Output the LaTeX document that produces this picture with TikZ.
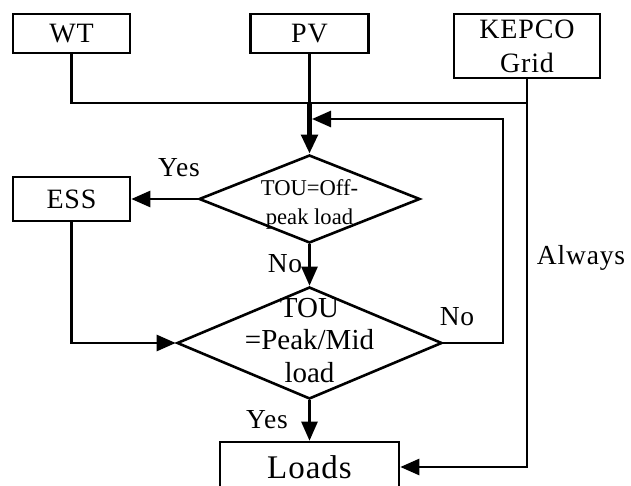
\documentclass[tikz,border=0pt]{standalone}
\usepackage{fontspec}
\newfontfamily\dfont{Liberation Serif}
\newfontfamily\lfont[LetterSpace=3]{Liberation Serif}
\usetikzlibrary{shapes.geometric,arrows.meta}
\begin{document}
\begin{tikzpicture}[x=1pt,y=-1pt,line width=2.6pt,
  box/.style={draw,rectangle,inner sep=0pt,align=center,font=\lfont\fontsize{28}{34}\selectfont},
  dia/.style={draw,diamond,inner sep=0pt},
  arr/.style={-{Triangle[length=19pt,width=16pt]}},
  lab/.style={anchor=base,inner sep=0pt,font=\lfont\fontsize{27.5}{30}\selectfont},
  dtext/.style={inner sep=0pt,align=center}]
\useasboundingbox (0,0) rectangle (631,486);
% boxes
\node[box,minimum width=117pt,minimum height=39pt] (wt) at (71.5,33.5) {WT};
\node[box,minimum width=118pt,minimum height=39pt] (pv) at (309.5,33.5) {PV};
\node[box,minimum width=146pt,minimum height=64pt] (kepco) at (527,46) {KEPCO\\Grid};
\node[box,minimum width=117pt,minimum height=44pt] (ess) at (71.5,199) {ESS};
\node[box,minimum width=179pt,minimum height=50pt,font=\lfont\fontsize{33}{36}\selectfont] (loads) at (309.5,467) {Loads};
% diamonds
\node[dia,minimum width=221pt,minimum height=88pt] (d1) at (309.5,199) {};
\node[dia,minimum width=265pt,minimum height=112pt] (d2) at (309.5,343) {};
\node[dtext,font=\dfont\fontsize{22.6}{29}\selectfont] (t1) at (309.5,204) {TOU=Off-\\peak load};
\node[dtext,font=\dfont\fontsize{29}{32.5}\selectfont] (t2) at (309.5,340.5) {TOU\\=Peak/Mid\\load};
% coordinates
\coordinate (wj) at (527,103);
\coordinate (pj) at (309.5,103);
\coordinate (fbc) at (503,119);
\coordinate (fbt) at (312,119);
% connectors
\draw (wt.south) |- (wj);
\draw (pv.south) -- (pj);
\draw[arr,line width=5.5pt] (pj) -- (d1.north);
\draw[arr] (kepco.south) |- (loads.east);
\draw[arr] (d1.west) -- (ess.east);
\draw[arr] (d1.south) -- (d2.north);
\draw[arr] (ess.south) |- (d2.west);
\draw[arr] (d2.east) -| (fbc) -- (fbt);
\draw[arr] (d2.south) -- (loads.north);
% labels
\node[lab] (yes1) at (179,177) {Yes};
\node[lab] (no1) at (285,272) {No};
\node[lab] (no2) at (457,325) {No};
\node[lab] (yes2) at (267,428) {Yes};
\node[lab] (always) at (581,264) {Always};
\end{tikzpicture}
\end{document}
